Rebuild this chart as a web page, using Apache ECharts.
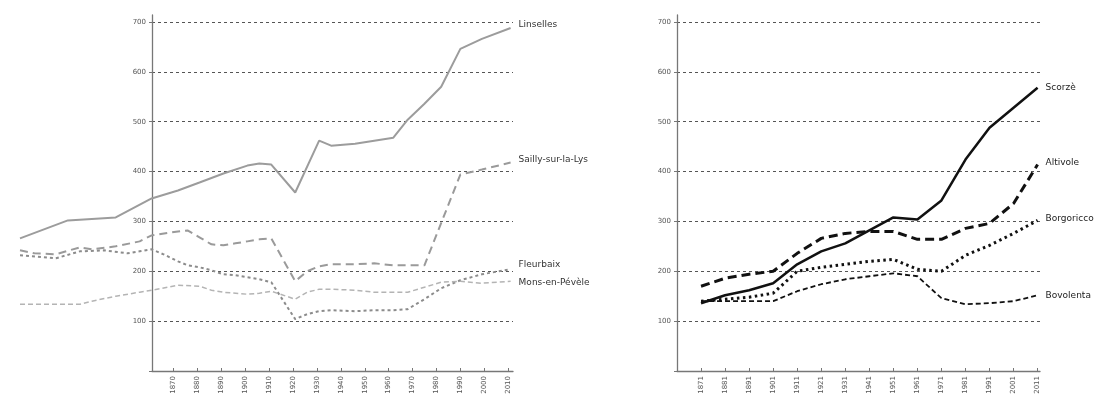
<!DOCTYPE html>
<html>
<head>
<meta charset="utf-8">
<script src="https://cdn.jsdelivr.net/npm/echarts@6/dist/echarts.min.js"></script>
<style>
  html, body { margin: 0; padding: 0; background: #fff; }
  #chart { width: 1104px; height: 398px; }
</style>
</head>
<body>
<div id="chart"></div>
<script>
// Nord / Pas-de-Calais communes (left panel), census years and values
const linsellesYears = [1806, 1826, 1846, 1861, 1872, 1881, 1891, 1901, 1906, 1911, 1921, 1931, 1936, 1946, 1954, 1962, 1968, 1975, 1982, 1990, 1999, 2011];
const linsellesVals  = [266, 302, 308, 346, 362, 378, 396, 412, 416, 414, 358, 462, 452, 456, 462, 468, 504, 536, 570, 646, 666, 688];

const saillyYears = [1806, 1812, 1821, 1831, 1836, 1846, 1856, 1861, 1872, 1876, 1881, 1886, 1891, 1896, 1901, 1906, 1911, 1921, 1926, 1931, 1936, 1946, 1954, 1962, 1968, 1975, 1990, 1999, 2011];
const saillyVals  = [242, 236, 234, 248, 244, 250, 260, 272, 280, 282, 268, 254, 252, 256, 260, 264, 266, 180, 200, 210, 214, 214, 216, 212, 212, 212, 394, 404, 418];

const fleurbaixYears = [1806, 1821, 1831, 1841, 1851, 1856, 1861, 1866, 1872, 1876, 1881, 1886, 1891, 1896, 1901, 1906, 1911, 1921, 1926, 1931, 1936, 1946, 1954, 1962, 1968, 1975, 1982, 1990, 1999, 2011];
const fleurbaixVals  = [232, 226, 240, 242, 236, 240, 244, 234, 220, 212, 208, 202, 194, 192, 188, 184, 178, 104, 114, 120, 122, 120, 122, 122, 124, 144, 166, 182, 194, 204];

const monsYears = [1806, 1821, 1831, 1836, 1846, 1856, 1861, 1872, 1881, 1886, 1891, 1901, 1906, 1911, 1921, 1926, 1931, 1936, 1946, 1954, 1962, 1968, 1975, 1982, 1990, 1999, 2011];
const monsVals  = [134, 134, 134, 140, 150, 158, 162, 172, 170, 162, 158, 154, 156, 160, 144, 158, 164, 164, 162, 158, 158, 158, 168, 178, 180, 176, 180];

// Veneto communes (right panel), one value per decade
const rightYears = [1871, 1881, 1891, 1901, 1911, 1921, 1931, 1941, 1951, 1961, 1971, 1981, 1991, 2001, 2011];
const scorzeVals     = [136, 152, 162, 176, 214, 240, 256, 282, 308, 304, 342, 424, 488, 528, 568];
const altivoleVals   = [170, 186, 194, 200, 236, 266, 276, 280, 280, 264, 264, 286, 296, 336, 414];
const borgoriccoVals = [140, 144, 148, 156, 200, 208, 214, 220, 224, 204, 200, 232, 252, 276, 302];
const bovolentaVals  = [140, 140, 140, 140, 160, 174, 184, 190, 196, 190, 146, 134, 136, 140, 152];

// Axis tick labels
const leftTickYears  = [1870, 1880, 1890, 1900, 1910, 1920, 1930, 1940, 1950, 1960, 1970, 1980, 1990, 2000, 2010];
const rightTickYears = rightYears;
const yTicks = [0, 100, 200, 300, 400, 500, 600, 700];

const zip = (xs, ys) => xs.map((x, i) => [x, ys[i]]);

const axisGray = '#777';
const labelFont = { fontFamily: 'DejaVu Sans', fontSize: 7, color: '#555' };

function visibleY(gridIndex) {
  return {
    type: 'value', gridIndex, min: 0, max: 714,
    axisLine: { show: true, lineStyle: { color: axisGray, width: 1.3 } },
    axisTick: { show: true, length: 3, lineStyle: { color: axisGray }, customValues: yTicks },
    axisLabel: Object.assign({ margin: 6, customValues: yTicks, formatter: v => (v === 0 ? '' : String(v)) }, labelFont),
    splitLine: { show: true, showMinLine: false, lineStyle: { color: '#555', type: [3, 3], width: 1 } }
  };
}

function visibleX(gridIndex, ticks) {
  return {
    type: 'value', gridIndex, min: 1861, max: 2012,
    axisLine: { show: true, onZero: false, lineStyle: { color: axisGray, width: 1.3 } },
    axisTick: { show: true, inside: true, length: 3, customValues: ticks, lineStyle: { color: axisGray } },
    axisLabel: Object.assign({ rotate: 90, margin: 5, customValues: ticks, formatter: v => String(v) }, labelFont),
    splitLine: { show: false }
  };
}

function line(name, data, xi, yi, style, labelColor, labelOffset) {
  return {
    name, type: 'line', xAxisIndex: xi, yAxisIndex: yi, data,
    showSymbol: false, silent: true, clip: false,
    lineStyle: style,
    endLabel: {
      show: true, formatter: '{a}', distance: 8, offset: labelOffset || [0, 0],
      fontFamily: 'DejaVu Sans', fontSize: 9, color: labelColor
    }
  };
}

const chart = echarts.init(document.getElementById('chart'), null, { renderer: 'canvas' });

chart.setOption({
  animation: false,
  backgroundColor: '#fff',
  grid: [
    { left: 152, right: 591, top: 15, bottom: 27 },   // left panel axes
    { left: 20,  right: 591, top: 15, bottom: 27 },   // left panel series (earlier years run past the y axis)
    { left: 677, right: 64,  top: 15, bottom: 27 }    // right panel
  ],
  xAxis: [
    visibleX(0, leftTickYears),
    { type: 'value', gridIndex: 1, min: 1806, max: 2012, show: false },
    visibleX(2, rightTickYears)
  ],
  yAxis: [
    visibleY(0),
    { type: 'value', gridIndex: 1, min: 0, max: 714, show: false },
    visibleY(2)
  ],
  series: [
    line('Linselles', zip(linsellesYears, linsellesVals), 1, 1,
      { color: '#9c9c9c', width: 2, type: 'solid' }, '#333', [0, -3]),
    line('Sailly-sur-la-Lys', zip(saillyYears, saillyVals), 1, 1,
      { color: '#9a9a9a', width: 2, type: [8, 5] }, '#333', [0, -3]),
    line('Fleurbaix', zip(fleurbaixYears, fleurbaixVals), 1, 1,
      { color: '#8c8c8c', width: 2, type: [3, 3] }, '#333', [0, -5]),
    line('Mons-en-Pévèle', zip(monsYears, monsVals), 1, 1,
      { color: '#b4b4b4', width: 1.5, type: [5, 3] }, '#333', [0, 1]),

    line('Scorzè', zip(rightYears, scorzeVals), 2, 2,
      { color: '#111', width: 2.5, type: 'solid' }, '#222', [0, 0]),
    line('Altivole', zip(rightYears, altivoleVals), 2, 2,
      { color: '#111', width: 3, type: [9, 5] }, '#222', [0, -2]),
    line('Borgoricco', zip(rightYears, borgoriccoVals), 2, 2,
      { color: '#111', width: 3, type: [2.5, 3.5] }, '#222', [0, -2]),
    line('Bovolenta', zip(rightYears, bovolentaVals), 2, 2,
      { color: '#111', width: 1.8, type: [5, 3] }, '#222', [0, 0])
  ]
});
</script>
</body>
</html>
